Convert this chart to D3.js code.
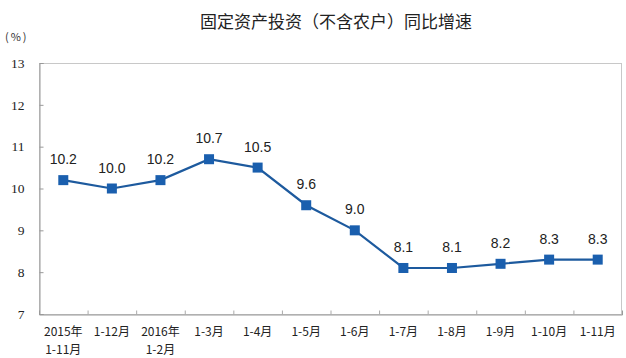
<!DOCTYPE html>
<html><head><meta charset="utf-8">
<script src="https://cdn.jsdelivr.net/npm/d3@7"></script>
<style>body{margin:0;background:#fff}svg{display:block}</style>
</head><body>
<script>
const categories = [["2015年","1-11月"],["1-12月"],["2016年","1-2月"],["1-3月"],["1-4月"],["1-5月"],["1-6月"],["1-7月"],["1-8月"],["1-9月"],["1-10月"],["1-11月"]];
const values = [10.2,10.0,10.2,10.7,10.5,9.6,9.0,8.1,8.1,8.2,8.3,8.3];
const yTicks = [7,8,9,10,11,12,13];
const title = "固定资产投资（不含农户）同比增速";
const unit = "(%)";

const W=626,H=358;
const m={left:39,right:4,top:63,bottom:44};
const svg=d3.select("body").append("svg").attr("width",W).attr("height",H);
const x=d3.scaleBand().domain(d3.range(categories.length)).range([m.left,W-m.right]);
const y=d3.scaleLinear().domain([7,13]).range([H-m.bottom,m.top]);

svg.append("text").attr("x",336).attr("y",28).attr("text-anchor","middle")
  .attr("font-family","Noto Sans CJK SC").attr("font-size",17).attr("fill","#222").text(title);
svg.append("text").attr("x",5).attr("y",41)
  .attr("font-family","Noto Sans CJK SC").attr("font-size",11).attr("letter-spacing",2).attr("fill","#333").text(unit);

// frame
svg.append("rect").attr("x",m.left+0.5).attr("y",m.top+0.5)
  .attr("width",W-m.right-m.left-1).attr("height",H-m.bottom-m.top)
  .attr("fill","none").attr("stroke","#c8c8c8").attr("stroke-width",1);

// y axis
const ya=svg.append("g").attr("transform",`translate(${m.left+0.5},0)`)
  .call(d3.axisRight(y).tickValues(yTicks).tickSize(4).tickFormat(d3.format("d")));
ya.select(".domain").attr("stroke","#999");
ya.selectAll(".tick line").attr("stroke","#999");
ya.selectAll(".tick text").attr("x",-15).attr("text-anchor","end")
  .attr("font-family","Liberation Serif").attr("font-size",13.5).attr("fill","#222");

// x axis
const xa=svg.append("g").attr("transform",`translate(0,${H-m.bottom+0.5})`)
  .call(d3.axisTop(d3.scaleLinear().domain([0,categories.length]).range([m.left,W-m.right]))
    .tickValues(d3.range(1,categories.length)).tickSize(4).tickFormat(""));
xa.select(".domain").attr("stroke","#999");
xa.selectAll(".tick line").attr("stroke","#aaa");

const lab=svg.append("g");
categories.forEach((c,i)=>{
  c.forEach((s,j)=>lab.append("text").attr("x",x(i)+x.bandwidth()/2).attr("y",336+j*18)
    .attr("text-anchor","middle").attr("font-family","Noto Sans CJK SC").attr("font-size",12)
    .attr("fill","#222").text(s));
});

const cx=i=>x(i)+x.bandwidth()/2;
svg.append("path").datum(values)
  .attr("d",d3.line().x((d,i)=>cx(i)).y(d=>y(d)))
  .attr("fill","none").attr("stroke","#1d5a9e").attr("stroke-width",2.2);
svg.selectAll(".mk").data(values).enter().append("rect")
  .attr("x",(d,i)=>cx(i)-5).attr("y",d=>y(d)-5).attr("width",10).attr("height",10)
  .attr("fill","#1a5fae");
svg.selectAll(".vl").data(values).enter().append("text")
  .attr("x",(d,i)=>cx(i)).attr("y",d=>y(d)-16).attr("text-anchor","middle")
  .attr("font-family","Liberation Sans").attr("font-size",14).attr("fill","#222")
  .text(d=>d.toFixed(1));
</script>
</body></html>
